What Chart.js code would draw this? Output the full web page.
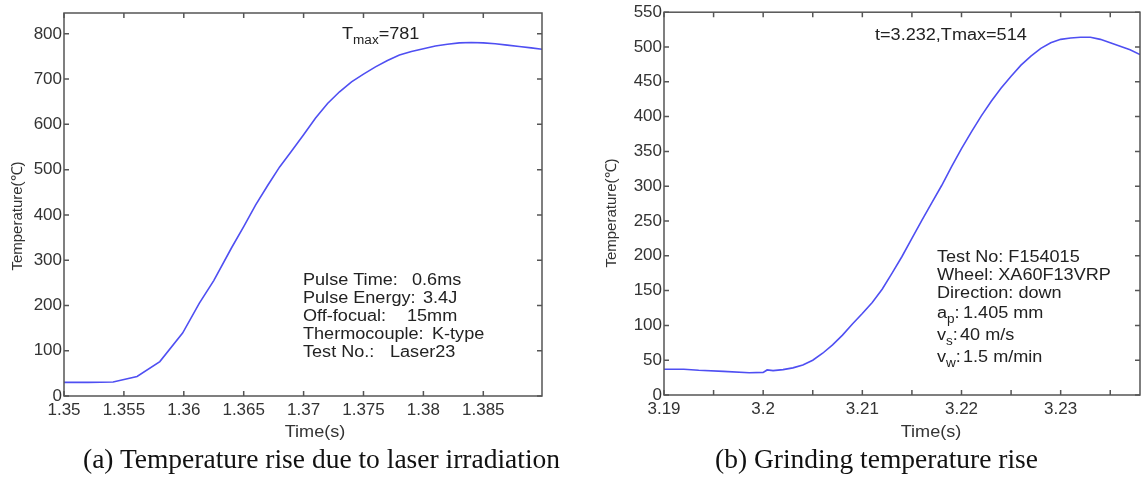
<!DOCTYPE html>
<html><head><meta charset="utf-8">
<script src="https://cdn.jsdelivr.net/npm/chart.js@4"></script>
<style>
html,body{margin:0;padding:0;background:#fff;width:1142px;height:483px;overflow:hidden;position:relative}
canvas{position:absolute;top:0}
#c1{left:0}
#c2{left:580px}
.cap{position:absolute;top:445px;font-family:"Liberation Serif","Times New Roman",serif;font-size:27.5px;line-height:27px;color:#111;white-space:nowrap}
</style></head><body>
<canvas id="c1" width="580" height="445"></canvas>
<canvas id="c2" width="562" height="445"></canvas>
<div class="cap" style="left:83px">(a) Temperature rise due to laser irradiation</div>
<div class="cap" style="left:715px">(b) Grinding temperature rise</div>
<script>
// ---- data: (a) laser irradiation ----
const laserTime = [1.35, 1.352, 1.3541, 1.3561, 1.358, 1.3599, 1.3613, 1.3625, 1.364, 1.365, 1.366, 1.367, 1.368, 1.369, 1.370, 1.371, 1.372, 1.373, 1.374, 1.375, 1.376, 1.377, 1.378, 1.379, 1.380, 1.381, 1.382, 1.383, 1.384, 1.385, 1.386, 1.387, 1.388, 1.389, 1.3899];
const laserTemp = [30, 30, 31, 43, 76, 139, 205, 255, 328, 374, 422, 465, 506, 541, 577, 614, 646, 672, 694, 711, 727, 741, 753, 761, 767, 773, 777, 780, 781, 780, 778, 775, 772, 769, 766];
const laserXLabels = ['1.35', '1.355', '1.36', '1.365', '1.37', '1.375', '1.38', '1.385'];
const laserYLabels = ['0', '100', '200', '300', '400', '500', '600', '700', '800'];

// ---- data: (b) grinding ----
const gridTime = [3.19, 3.192, 3.1935, 3.196, 3.1986, 3.2, 3.2004, 3.201, 3.202, 3.203, 3.204, 3.205, 3.206, 3.207, 3.208, 3.209, 3.21, 3.211, 3.212, 3.213, 3.214, 3.215, 3.216, 3.217, 3.218, 3.219, 3.22, 3.221, 3.222, 3.223, 3.224, 3.225, 3.226, 3.227, 3.228, 3.229, 3.23, 3.231, 3.232, 3.233, 3.234, 3.235, 3.236, 3.237, 3.238];
const gridTemp = [37, 37, 35.5, 34, 32, 32.5, 36, 35, 36.5, 39, 43, 50, 60, 72, 86, 102, 117, 133, 152, 175, 199, 225, 251, 276, 301, 328, 354, 378, 401, 422, 441, 458, 474, 487, 498, 506, 511, 513, 514, 514, 511, 506, 501, 496, 489];
const gridXLabels = ['3.19', '', '3.2', '', '3.21', '', '3.22', '', '3.23', ''];
const gridYLabels = ['0', '50', '100', '150', '200', '250', '300', '350', '400', '450', '500', '550'];

const SANS = '"Liberation Sans", Arial, sans-serif';
const SX = 1.13;

function drawNote(ctx, n) {
  ctx.save();
  ctx.translate(n.x, n.y);
  ctx.scale(SX, 1);
  ctx.fillStyle = '#222';
  ctx.textBaseline = 'alphabetic';
  ctx.textAlign = 'left';
  let cx = 0;
  n.parts.forEach(p => {
    if (p.dx !== undefined) cx = p.dx / SX;
    ctx.font = (p.sub ? '12px ' : '16px ') + SANS;
    ctx.fillText(p.t, cx, p.sub ? 5 : 0);
    cx += ctx.measureText(p.t).width;
  });
  ctx.restore();
}

const boxPlugin = {
  id: 'box',
  afterDraw(chart, args, o) {
    const {ctx, chartArea: a, scales} = chart;
    ctx.save();
    ctx.strokeStyle = '#555';
    ctx.lineWidth = 1.5;
    ctx.strokeRect(a.left, a.top, a.right - a.left, a.bottom - a.top);
    const L = 5;
    ctx.beginPath();
    scales.x.ticks.forEach((t, i) => {
      const px = scales.x.getPixelForTick(i);
      ctx.moveTo(px, a.bottom); ctx.lineTo(px, a.bottom - L);
      ctx.moveTo(px, a.top); ctx.lineTo(px, a.top + L);
    });
    scales.y.ticks.forEach((t, i) => {
      const py = scales.y.getPixelForTick(i);
      ctx.moveTo(a.left, py); ctx.lineTo(a.left + L, py);
      ctx.moveTo(a.right, py); ctx.lineTo(a.right - L, py);
    });
    ctx.stroke();
    // axis titles
    ctx.fillStyle = '#333';
    ctx.save();
    ctx.translate(o.xTitle.x, o.xTitle.y);
    ctx.scale(SX, 1);
    ctx.font = '16px ' + SANS;
    ctx.textAlign = 'center';
    ctx.textBaseline = 'alphabetic';
    ctx.fillText(o.xTitle.text, 0, 0);
    ctx.restore();
    ctx.save();
    ctx.translate(o.yTitle.x, o.yTitle.y);
    ctx.rotate(-Math.PI / 2);
    ctx.font = '15px ' + SANS;
    ctx.textAlign = 'center';
    ctx.textBaseline = 'middle';
    ctx.fillText(o.yTitle.text, 0, 0);
    ctx.restore();
    (o.notes || []).forEach(n => drawNote(ctx, n));
    ctx.restore();
  }
};

function makeChart(id, xs, ys, xr, yr, xLabels, yLabels, yWidth, xHeight, pad, plug) {
  return new Chart(document.getElementById(id), {
    type: 'line',
    data: {
      datasets: [{
        data: xs.map((t, i) => ({x: t, y: ys[i]})),
        borderColor: '#4f4ff2',
        borderWidth: 1.6,
        pointRadius: 0,
        tension: 0,
        fill: false
      }]
    },
    options: {
      responsive: false,
      animation: false,
      devicePixelRatio: 1,
      layout: {padding: pad},
      plugins: {legend: {display: false}, tooltip: {enabled: false}, box: plug},
      scales: {
        x: {
          type: 'linear', min: xr[0], max: xr[1],
          grid: {display: false, drawTicks: false},
          border: {display: false},
          ticks: {
            stepSize: xr[2], includeBounds: false, autoSkip: false, maxRotation: 0,
            padding: 4, color: '#333', font: {family: SANS, size: 17},
            callback: (v, i) => xLabels[i] ?? ''
          },
          afterFit: s => { s.height = xHeight; }
        },
        y: {
          type: 'linear', min: yr[0], max: yr[1],
          grid: {display: false, drawTicks: false},
          border: {display: false},
          ticks: {
            stepSize: yr[2], includeBounds: false, padding: 2, color: '#333',
            font: {family: SANS, size: 17},
            callback: (v, i) => yLabels[i] ?? ''
          },
          afterFit: s => { s.width = yWidth; }
        }
      }
    },
    plugins: [boxPlugin]
  });
}

makeChart('c1', laserTime, laserTemp, [1.35, 1.3899, 0.005], [0, 846, 100],
  laserXLabels, laserYLabels, 64, 49, {left: 0, top: 13, right: 38, bottom: 0},
  {
    xTitle: {text: 'Time(s)', x: 315, y: 437},
    yTitle: {text: 'Temperature(℃)', x: 18, y: 216},
    notes: [
      {x: 342, y: 39, parts: [{t: 'T'}, {t: 'max', sub: true}, {t: '=781'}]},
      {x: 303, y: 285, parts: [{t: 'Pulse Time:'}, {t: '0.6ms', dx: 109}]},
      {x: 303, y: 303, parts: [{t: 'Pulse Energy:'}, {t: '3.4J', dx: 120}]},
      {x: 303, y: 321, parts: [{t: 'Off-focual:'}, {t: '15mm', dx: 104}]},
      {x: 303, y: 339, parts: [{t: 'Thermocouple:'}, {t: 'K-type', dx: 129}]},
      {x: 303, y: 357, parts: [{t: 'Test No.:'}, {t: 'Laser23', dx: 87}]}
    ]
  });

makeChart('c2', gridTime, gridTemp, [3.19, 3.238, 0.005], [0, 550, 50],
  gridXLabels, gridYLabels, 84, 50, {left: 0, top: 11, right: 2, bottom: 0},
  {
    xTitle: {text: 'Time(s)', x: 351, y: 437},
    yTitle: {text: 'Temperature(℃)', x: 32, y: 213},
    notes: [
      {x: 295, y: 40, parts: [{t: 't=3.232,Tmax=514'}]},
      {x: 357, y: 262, parts: [{t: 'Test No: F154015'}]},
      {x: 357, y: 280, parts: [{t: 'Wheel: XA60F13VRP'}]},
      {x: 357, y: 298, parts: [{t: 'Direction: down'}]},
      {x: 357, y: 318, parts: [{t: 'a'}, {t: 'p', sub: true}, {t: ':'}, {t: '1.405 mm', dx: 26}]},
      {x: 357, y: 340, parts: [{t: 'v'}, {t: 's', sub: true}, {t: ':'}, {t: '40 m/s', dx: 23}]},
      {x: 357, y: 362, parts: [{t: 'v'}, {t: 'w', sub: true}, {t: ':'}, {t: '1.5 m/min', dx: 26}]}
    ]
  });
</script>
</body></html>
